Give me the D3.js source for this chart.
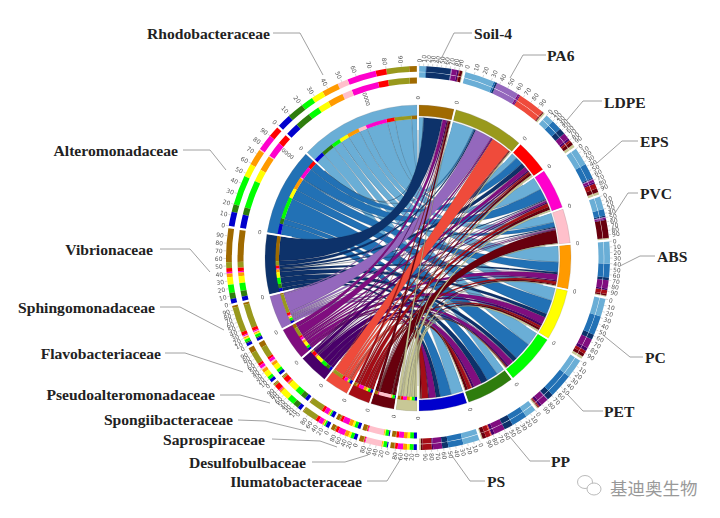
<!DOCTYPE html>
<html><head><meta charset="utf-8">
<script src="https://cdn.jsdelivr.net/npm/d3@7/dist/d3.min.js"></script>
<style>html,body{margin:0;background:#fff}svg{display:block}</style></head>
<body><svg id="c" width="720" height="518"><defs><filter id="soft" x="-5%" y="-5%" width="110%" height="110%"><feGaussianBlur stdDeviation="0.45"/></filter></defs></svg>
<script>
// clockwise from top
const samples=["Soil-4","PA6","LDPE","EPS","PVC","ABS","PC","PET","PP","PS"];
const sampleSizes=[14,27.7,13.3,16,13.7,17.3,20,20,19,19];
const sampleColors=["#a06a00","#99991f","#ff0000","#ff00cc","#ffc0cb","#ff9a00","#ffff00","#00ff00","#2e7d0a","#0000cd"];
// clockwise from bottom
const families=["Ilumatobacteraceae","Desulfobulbaceae","Saprospiraceae","Spongiibacteraceae","Pseudoalteromonadaceae","Flavobacteriaceae","Sphingomonadaceae","Vibrionaceae","Alteromonadaceae","Rhodobacteraceae"];
const familySizes=[8.7,9.6,9.1,9.9,12,13,13.6,23.4,33.9,46.8];
const familyColors=["#c8c896","#67000d","#a50f15","#ef4b3a","#49006a","#800f7f","#9467bd","#08306b","#2171b5","#6baed6"];
// share of each family inside each sample (rows: samples; columns: families)
const sampleShares=[
[2,6,2,0,4,12,2,56,2,14],
[2,1,1,30,1,2,26,2,2,33],
[7,8,5,0,5,15,0,15,25,20],
[5,8,10,0,3,5,2,2,30,35],
[3,42,0,0,2,3,2,3,15,30],
[2,3,7,0,3,15,0,5,25,40],
[4,5,5,0,5,15,0,8,30,28],
[2,1,2,0,4,12,1,10,38,30],
[2,6,8,2,5,18,0,15,26,18],
[3,3,15,0,2,15,0,10,25,27]];
// share of each sample inside each family (rows: families; columns: samples)
const familyShares=[
[15,3,10,20,0,15,10,15,0,12],
[15,2,3,3,55,3,3,12,0,4],
[13,5,10,25,0,15,8,12,0,12],
[3,48,10,15,0,5,2,5,0,12],
[3,4,15,3,0,5,25,20,15,10],
[14,30,6,8,4,8,14,8,0,8],
[5,60,8,3,2,3,3,6,3,7],
[45,8,5,2,0,5,10,11,8,6],
[0,0,10,15,1,15,12,27,7,13],
[5,15,7,19,7,11,8,8,11,9]];
const tickValues=[0,10,20,30,40,50,60,70,80,90];
const coarseTickValues=[0,20,40,60,80];
const coarseFamilies=["Ilumatobacteraceae","Desulfobulbaceae","Saprospiraceae","Spongiibacteraceae"];
const leaderLabels=[
["Soil-4",474,33,"start",[[472,33],[454,33],[442,57]]],
["PA6",547,55,"start",[[546,55],[523,55],[510,78]]],
["LDPE",604,102,"start",[[602,101],[583,101],[567,120]]],
["EPS",640,141,"start",[[638,141],[622,141],[597,163]]],
["PVC",640,193,"start",[[638,193],[628,193],[615,213]]],
["ABS",657,256,"start",[[655,256],[640,256],[620,266]]],
["PC",645,357,"start",[[643,357],[630,357],[603,335]]],
["PET",604,411,"start",[[603,411],[583,411],[568,395]]],
["PP",551,461,"start",[[550,461],[530,461],[510,437]]],
["PS",487,481,"start",[[485,481],[470,481],[450,453]]],
["Ilumatobacteraceae",362,481,"end",[[367,481],[387,481],[400,460]]],
["Desulfobulbaceae",306,462,"end",[[312,462],[345,462],[368,455]]],
["Saprospiraceae",265,439,"end",[[272,439],[320,441],[337,447]]],
["Spongiibacteraceae",233,419,"end",[[238,420],[265,421],[306,431]]],
["Pseudoalteromonadaceae",215,394,"end",[[220,395],[240,395],[270,403]]],
["Flavobacteriaceae",161,353,"end",[[165,353],[185,353],[243,372]]],
["Sphingomonadaceae",155,307,"end",[[160,307],[180,307],[224,330]]],
["Vibrionaceae",153,249,"end",[[160,249],[190,249],[210,272]]],
["Alteromonadaceae",178,150,"end",[[183,150],[210,150],[226,170]]],
["Rhodobacteraceae",270,33,"end",[[273,33],[300,33],[323,75]]]];

const cx=418,cy=258,deg=Math.PI/180,pad=0.35*deg;
const svg=d3.select("#c");
const g=svg.append("g").attr("transform",`translate(${cx},${cy})`).attr("filter","url(#soft)");
const total=d3.sum(sampleSizes)+d3.sum(familySizes);
const angle=d3.scaleLinear().domain([0,total]).range([0,2*Math.PI]);
function layout(sizes,offset){let c=offset;return sizes.map(s=>{const a=[angle(c),angle(c+s)];c+=s;return a;});}
const sampleArcs=layout(sampleSizes,0), familyArcs=layout(familySizes,d3.sum(sampleSizes));
const arc=d3.arc();
function stack(shares,span){
  const s=d3.scaleLinear().domain([0,d3.sum(shares)]).range([span[0]+pad,span[1]-pad]);
  let c=0;return shares.map(v=>{const a=s(c);c+=v;return [a,s(c)];});
}
const sampleOrder=d3.range(9,-1,-1);
const sampleStacks=sampleShares.map((row,i)=>{const st=stack(sampleOrder.map(f=>row[f]),sampleArcs[i]);const out=[];sampleOrder.forEach((f,k)=>out[f]=st[k]);return out;});
const familyStacks=familyShares.map((row,i)=>{const st=stack(sampleOrder.map(p=>row[p]),familyArcs[i]);const out=[];sampleOrder.forEach((p,k)=>out[p]=st[k]);return out;});

// ribbons: light blue drawn first, khaki last
const R1=140.5,R2=139;
const ribbon=d3.ribbon();
const links=[];
samples.forEach((_,p)=>families.forEach((_,f)=>{
  const a=sampleStacks[p][f],b=familyStacks[f][p];
  if(a[1]-a[0]>1e-4||b[1]-b[0]>1e-4) links.push({p,f,
    source:{startAngle:a[0],endAngle:a[1],radius:R1},target:{startAngle:b[0],endAngle:b[1],radius:R2}});
}));
links.sort((x,y)=>d3.descending(x.f,y.f));
g.selectAll("path.rb").data(links).join("path").attr("class","rb")
 .attr("d",ribbon).attr("fill",d=>familyColors[d.f]).attr("stroke","#222").attr("stroke-opacity",.45).attr("stroke-width",.35);

function ring(arcs,colors){
  g.append("g").selectAll("path").data(arcs).join("path")
   .attr("d",d=>arc({innerRadius:142,outerRadius:153,startAngle:d[0]+pad,endAngle:d[1]-pad}))
   .attr("fill",(d,i)=>colors[i]).attr("stroke","#777").attr("stroke-opacity",.5).attr("stroke-width",.4);
}
ring(sampleArcs,sampleColors);ring(familyArcs,familyColors);
familyStacks.forEach(st=>st.forEach((a,p)=>{
  if(a[1]-a[0]<1e-4)return;
  g.append("path").attr("d",arc({innerRadius:139,outerRadius:142.5,startAngle:a[0],endAngle:a[1]})).attr("fill",sampleColors[p]);
}));
function radial(r,a){return [r*Math.sin(a),-r*Math.cos(a)];}
function radText(sel,r,a,txt,size,color){
  const d=a/deg, right=d%360<180;
  sel.append("text").attr("transform",`rotate(${d-90}) translate(${r},0)${right?"":" rotate(180)"}`)
   .attr("text-anchor",right?"start":"end").attr("dominant-baseline","central")
   .attr("font-family","DejaVu Sans").attr("font-size",size).attr("fill",color).text(txt);
}
[...sampleArcs,...familyArcs].forEach(s=>{
  const a=radial(128,s[0]),b=radial(157,s[0]);
  g.append("line").attr("x1",a[0]).attr("y1",a[1]).attr("x2",b[0]).attr("y2",b[1]).attr("stroke","#fff").attr("stroke-width",1.4);
  radText(g,158.5,s[0],"0",5.5,"#555");
});
radText(g,160,342*deg,"10000",5.5,"#555");
radText(g,160,308.7*deg,"10000",5.5,"#555");

function tracks(stacks,colors,arcs,inR,ticksFor){
  stacks.forEach((st,i)=>{
    st.forEach((a,k)=>{
      if(a[1]-a[0]<1e-4)return;
      [[186.2,192],inR].forEach(r=>g.append("path").attr("d",arc({innerRadius:r[0],outerRadius:r[1],startAngle:a[0],endAngle:a[1]})).attr("fill",colors[k]));
    });
    const t=d3.scaleLinear().domain([0,100]).range([arcs[i][0]+pad,arcs[i][1]-pad]);
    ticksFor(i).forEach(v=>{
      const a=t(v),p=radial(192,a),q=radial(194.5,a);
      g.append("line").attr("x1",p[0]).attr("y1",p[1]).attr("x2",q[0]).attr("y2",q[1]).attr("stroke","#999").attr("stroke-width",.4);
      radText(g,195.5,a,String(v),6,"#555");
    });
  });
}
tracks(sampleStacks,familyColors,sampleArcs,[180.5,185.8],()=>tickValues);
tracks(familyStacks,sampleColors,familyArcs,[174.5,180.5],i=>coarseFamilies.includes(families[i])?coarseTickValues:tickValues);

const line=d3.line();
leaderLabels.forEach(l=>{
  svg.append("path").attr("d",line(l[4])).attr("fill","none").attr("stroke","#888").attr("stroke-width",.8);
  svg.append("text").attr("x",l[1]).attr("y",l[2]).attr("text-anchor",l[3]).attr("dominant-baseline","central")
   .attr("font-family","Liberation Serif").attr("font-weight","bold").attr("font-size",15.6).attr("fill","#222").text(l[0]);
});
const wm=svg.append("g");
wm.append("ellipse").attr("cx",585).attr("cy",482).attr("rx",7.5).attr("ry",6.5).attr("fill","#fff").attr("stroke","#bbb").attr("stroke-width",1);
wm.append("ellipse").attr("cx",594).attr("cy",489).attr("rx",7).attr("ry",6).attr("fill","#fff").attr("stroke","#bbb").attr("stroke-width",1);
wm.append("text").attr("x",610).attr("y",487).attr("dominant-baseline","central").attr("font-family","Noto Sans CJK SC").attr("font-size",17.5).attr("fill","#999").text("基迪奥生物");
</script></body></html>
